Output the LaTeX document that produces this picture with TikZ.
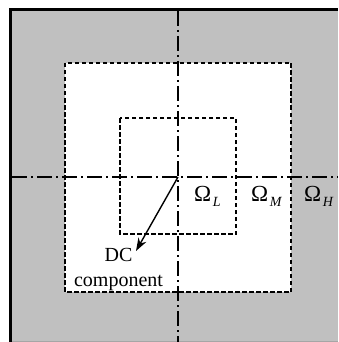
\documentclass[tikz,border=0pt]{standalone}
\usepackage{fontspec}
\setmainfont{Liberation Serif}
\usetikzlibrary{arrows.meta}
\definecolor{bggray}{HTML}{C0C0C0}
\tikzset{
  frameline/.style={line width=2.6pt},
  boxdash/.style={line width=1.4pt, dash pattern=on 4.5pt off 2.5pt},
  axisline/.style={line width=1.7pt, dash pattern=on 15pt off 4pt on 2pt off 4pt},
  lbl/.style={inner sep=0pt, anchor=base west, font=\fontsize{23}{25}\selectfont},
  txt/.style={inner sep=0pt, align=center, font=\fontsize{20}{25}\selectfont},
}
\newcommand{\sbs}[1]{\kern1.5pt\raisebox{-5pt}{\fontsize{14}{14}\selectfont\itshape #1}}
\begin{document}
\begin{tikzpicture}[x=1pt,y=-1pt]
\useasboundingbox (0,0) rectangle (338,342);
\fill[white] (0,0) rectangle (338,342);
\fill[bggray] (11,10) rectangle (338,342);
\draw[gray!70, line width=0.8pt] (11,341.4) -- (338,341.4);
\draw[frameline] (10.5,342) -- (10.5,9.7) -- (338,9.7);
\node[draw=none, fill=white, minimum width=226pt, minimum height=229pt, inner sep=0pt] (outer) at (178,177.5) {};
\draw[boxdash] (65,63) rectangle (291,292);
\node[minimum width=116pt, minimum height=116pt, inner sep=0pt] (inner) at (178,176) {};
\draw[boxdash] (120,118) rectangle (236,234);
\coordinate (c) at (178,177);
\coordinate (top) at (178,11);
\coordinate (bot) at (178,342);
\coordinate (lft) at (12,177);
\coordinate (rgt) at (338,177);
\draw[axisline] (top) -- (bot);
\draw[axisline] (lft) -- (rgt);
\coordinate (tip) at (136,251);
\draw[line width=1.4pt, -{Stealth[length=13pt,width=9pt]}] (c) -- (tip);
\node[txt] (dc) at (118.5,270) {DC\\component};
\node[lbl] (oL) at (194,201) {Ω\sbs{L}};
\node[lbl] (oM) at (251,201) {Ω\sbs{M}};
\node[lbl] (oH) at (304,201) {Ω\sbs{H}};
\end{tikzpicture}
\end{document}
